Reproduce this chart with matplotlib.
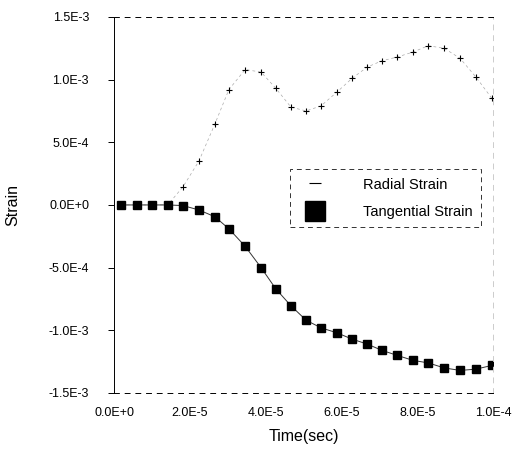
import matplotlib.pyplot as plt
from matplotlib.lines import Line2D
from matplotlib.ticker import FuncFormatter

plt.rcParams['font.family'] = ['Liberation Sans', 'DejaVu Sans']

# time (s) and strain values
time_us = [1.9, 6.0, 10.0, 14.2, 18.2, 22.4, 26.6, 30.3, 34.6, 38.8, 42.7, 46.7, 50.7,
           54.6, 58.8, 62.8, 66.8, 70.7, 74.7, 78.9, 82.9, 87.1, 91.3, 95.5, 99.7]
radial = [0.0, 0.0, 0.0, 0.1e-5, 1.45e-4, 3.5e-4, 6.45e-4, 9.2e-4, 1.08e-3, 1.06e-3, 9.3e-4,
          7.8e-4, 7.5e-4, 7.9e-4, 9.0e-4, 1.01e-3, 1.10e-3, 1.15e-3, 1.18e-3, 1.22e-3,
          1.27e-3, 1.25e-3, 1.17e-3, 1.02e-3, 8.5e-4]
tangential = [0.0, 0.0, 0.0, 0.0, -0.5e-5, -4e-5, -9.4e-5, -1.9e-4, -3.3e-4, -5.0e-4,
              -6.7e-4, -8.05e-4, -9.2e-4, -9.8e-4, -1.02e-3, -1.07e-3, -1.11e-3, -1.16e-3,
              -1.20e-3, -1.24e-3, -1.26e-3, -1.30e-3, -1.32e-3, -1.31e-3, -1.28e-3]
xticks = [0, 2e-5, 4e-5, 6e-5, 8e-5, 1e-4]
yticks = [-1.5e-3, -1e-3, -5e-4, 0, 5e-4, 1e-3, 1.5e-3]

t = [v * 1e-6 for v in time_us]

fig = plt.figure(figsize=(5.24, 4.66), dpi=100)
ax = fig.add_axes([0.2176, 0.1567, 0.7233, 0.807])

ax.plot(t, radial, color='#aaaaaa', lw=0.5, ls=(0, (4, 4)), marker='+', ms=4.5,
        mew=0.8, mec='black')
ax.plot(t, tangential, color='#333333', lw=0.7, marker='s', ms=5.5, mfc='black',
        mec='black')

ax.set_xlim(0, 1e-4)
ax.set_ylim(-1.5e-3, 1.5e-3)
ax.set_xticks(xticks)
ax.set_yticks(yticks)

def fmt(v, pos):
    s = '%.1E' % v
    mant, exp = s.split('E')
    e = int(exp)
    return '%sE%s%d' % (mant, '+' if e >= 0 else '-', abs(e))

ax.xaxis.set_major_formatter(FuncFormatter(fmt))
ax.yaxis.set_major_formatter(FuncFormatter(fmt))
ax.tick_params(axis='x', length=0, pad=10, labelsize=9)
ax.tick_params(axis='y', length=4, width=0.7, pad=14, labelsize=9)

for side in ['top', 'bottom', 'right']:
    ax.spines[side].set_linestyle((0, (5, 6)))
    ax.spines[side].set_linewidth(0.7)
ax.spines['right'].set_color('#cccccc')
ax.spines['left'].set_linewidth(0.7)
ax.spines['left'].set_linestyle((0, (8, 1)))

ax.set_xlabel('Time(sec)', fontsize=11.5, labelpad=7)
ax.set_ylabel('Strain', fontsize=11.5, labelpad=20)

handles = [Line2D([], [], ls='none', marker='_', ms=8, mew=0.8, color='black'),
           Line2D([], [], ls='none', marker='s', ms=15, color='black')]
leg = ax.legend(handles, ['Radial Strain', 'Tangential Strain'], loc='upper left',
                bbox_to_anchor=(0.464, 0.596), fontsize=10.5, frameon=True,
                fancybox=False, handlelength=2.2, handletextpad=2.2, borderpad=0.6,
                labelspacing=0.9, borderaxespad=0)
leg.get_frame().set_edgecolor('black')
leg.get_frame().set_linewidth(0.7)
leg.get_frame().set_linestyle((0, (5, 4)))

fig.savefig('out.png', dpi=100)
